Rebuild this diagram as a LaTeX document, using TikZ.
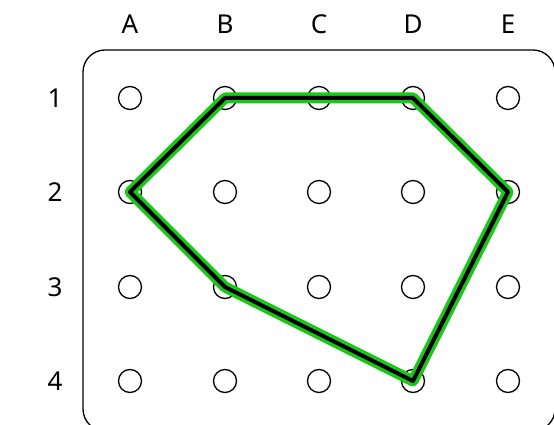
\documentclass[tikz,border=0pt]{standalone}
\usepackage{fontspec}
\setmainfont{Noto Sans}
\definecolor{polygreen}{RGB}{25,200,25}
\begin{document}
\begin{tikzpicture}[x=1pt,y=1pt,
  peg/.style={circle,draw,line width=1.3pt,minimum size=23pt,inner sep=0pt},
  lab/.style={font=\fontsize{26}{30}\selectfont,inner sep=0pt},
  board/.style={draw,line width=1.3pt,rounded corners=22pt},
  outerline/.style={draw=polygreen,line width=11pt,line join=round},
  innerline/.style={draw=black,line width=4pt,line join=round}]
\useasboundingbox (0,0) rectangle (554,425);
\draw[board] (83,-6) rectangle (555,375);
\foreach \c/\x in {A/130,B/225,C/319,D/413,E/508}{
  \node[lab] (col\c) at (\x,401) {\c};
  \foreach \r/\y in {1/327,2/233,3/138,4/44}{
    \node[peg] (\c\r) at (\x,\y) {};
  }
}
\foreach \r/\y in {1/327,2/233,3/138,4/44}{
  \node[lab] (row\r) at (55,\y) {\r};
}
\draw[outerline] (B1.center) -- (D1.center) -- (E2.center) -- (D4.center) -- (B3.center) -- (A2.center) -- cycle;
\draw[innerline] (B1.center) -- (D1.center) -- (E2.center) -- (D4.center) -- (B3.center) -- (A2.center) -- cycle;
\end{tikzpicture}
\end{document}
